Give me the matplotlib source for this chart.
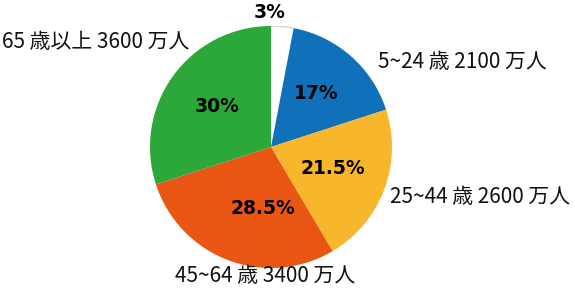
import matplotlib
matplotlib.use("Agg")
import matplotlib.pyplot as plt
from matplotlib.patches import Arc

categories = ["", "5~24 歳 2100 万人", "25~44 歳 2600 万人", "45~64 歳 3400 万人", "65 歳以上 3600 万人"]
values = [3, 17, 21.5, 28.5, 30]
pct_labels = ["3%", "17%", "21.5%", "28.5%", "30%"]
colors = ["#FFFFFF", "#1170BA", "#F8B62D", "#E95513", "#2BA839"]

W, H = 575, 292
fig = plt.figure(figsize=(W / 100, H / 100), dpi=100)
cx, cy, R = 271, 147, 121
ax = fig.add_axes([(cx - R) / W, (H - cy - R) / H, 2 * R / W, 2 * R / H])
ax.axis("off")

wedges, _ = ax.pie(values, colors=colors, startangle=90, counterclock=False,
                   radius=1, center=(0, 0), frame=False,
                   wedgeprops=dict(linewidth=0))
ax.set_xlim(-1, 1)
ax.set_ylim(-1, 1)

# faint outline on the white wedge's arc
w0 = wedges[0]
ax.add_patch(Arc((0, 0), 2, 2, theta1=w0.theta1, theta2=w0.theta2,
                 color="#cccccc", lw=0.8))

pct_font = dict(family=["DejaVu Sans"], fontweight="bold",
                fontsize=13.5, color="black", ha="center", va="center")
pct_pos = [(270, 13), (316, 93), (333, 168), (263, 208), (217, 107)]
for lab, (px, py) in zip(pct_labels, pct_pos):
    fig.text(px / W, 1 - py / H, lab, **pct_font)

lab_font = dict(family=["Noto Sans CJK JP", "DejaVu Sans"], fontsize=15,
                color="#111111", va="center")
lab_pos = [None, (378, 62, "left"), (390, 197, "left"), (175, 276, "left"), (2, 42, "left")]
for lab, pos in zip(categories, lab_pos):
    if pos is None:
        continue
    px, py, ha = pos
    fig.text(px / W, 1 - py / H, lab, ha=ha, **lab_font)

fig.savefig("out.png", dpi=100, facecolor="white")
